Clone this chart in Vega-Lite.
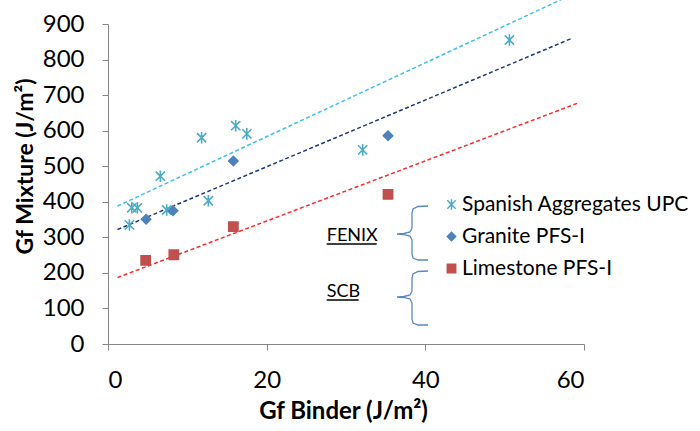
{
  "$schema": "https://vega.github.io/schema/vega-lite/v6.json",
  "width": 476,
  "height": 320,
  "autosize": {"type": "none"},
  "padding": {"left": 108, "top": 24, "right": 116, "bottom": 87},
  "background": "white",
  "config": {
    "view": {"stroke": null},
    "font": "Lato",
    "axis": {
      "grid": false,
      "domainColor": "#868686",
      "tickColor": "#868686",
      "tickSize": 6,
      "labelFont": "Lato",
      "labelFontSize": 24,
      "labelColor": "#000000",
      "labelOverlap": false,
      "titleFont": "Lato",
      "titleFontWeight": "bold",
      "titleColor": "#000000"
    },
    "axisY": {"labelOverlap": false, "labelSeparation": -30},
    "legend": {
      "orient": "none",
      "legendX": 333,
      "legendY": 170,
      "title": null,
      "labelFontSize": 21,
      "labelFont": "Lato",
      "labelColor": "#000000",
      "labelLimit": 400,
      "symbolSize": 70,
      "rowPadding": 10,
      "labelOffset": 0,
      "padding": 0
    }
  },
  "datasets": {
    "points": [
      {"series": "Spanish Aggregates UPC", "gx": 2.7, "gy": 335},
      {"series": "Spanish Aggregates UPC", "gx": 3.0, "gy": 383},
      {"series": "Spanish Aggregates UPC", "gx": 3.7, "gy": 383},
      {"series": "Spanish Aggregates UPC", "gx": 6.6, "gy": 472},
      {"series": "Spanish Aggregates UPC", "gx": 7.4, "gy": 377},
      {"series": "Spanish Aggregates UPC", "gx": 11.8, "gy": 580},
      {"series": "Spanish Aggregates UPC", "gx": 12.65, "gy": 403},
      {"series": "Spanish Aggregates UPC", "gx": 16.1, "gy": 614},
      {"series": "Spanish Aggregates UPC", "gx": 17.5, "gy": 591},
      {"series": "Spanish Aggregates UPC", "gx": 32.1, "gy": 546},
      {"series": "Spanish Aggregates UPC", "gx": 50.6, "gy": 855},
      {"series": "Granite PFS-I", "gx": 4.8, "gy": 351},
      {"series": "Granite PFS-I", "gx": 8.2, "gy": 375},
      {"series": "Granite PFS-I", "gx": 15.8, "gy": 515},
      {"series": "Granite PFS-I", "gx": 35.3, "gy": 586},
      {"series": "Limestone PFS-I", "gx": 4.75, "gy": 235},
      {"series": "Limestone PFS-I", "gx": 8.3, "gy": 251},
      {"series": "Limestone PFS-I", "gx": 15.8, "gy": 330},
      {"series": "Limestone PFS-I", "gx": 35.3, "gy": 421}
    ],
    "trends": [
      {"fit": "UPC fit", "gx": 1.2, "gy": 388},
      {"fit": "UPC fit", "gx": 58.6, "gy": 984},
      {"fit": "Granite fit", "gx": 1.2, "gy": 322},
      {"fit": "Granite fit", "gx": 58.5, "gy": 860},
      {"fit": "Limestone fit", "gx": 1.2, "gy": 187},
      {"fit": "Limestone fit", "gx": 59.4, "gy": 679}
    ],
    "braces": [
      {"group": "FENIX", "i": 0, "gx": 40.34, "gy": 388.1},
      {"group": "FENIX", "i": 1, "gx": 39.08, "gy": 386.7},
      {"group": "FENIX", "i": 2, "gx": 38.45, "gy": 379.7},
      {"group": "FENIX", "i": 3, "gx": 38.32, "gy": 368.4},
      {"group": "FENIX", "i": 4, "gx": 38.32, "gy": 326.2},
      {"group": "FENIX", "i": 5, "gx": 38.07, "gy": 315.0},
      {"group": "FENIX", "i": 6, "gx": 37.31, "gy": 310.8},
      {"group": "FENIX", "i": 7, "gx": 36.43, "gy": 309.4},
      {"group": "FENIX", "i": 8, "gx": 37.31, "gy": 307.9},
      {"group": "FENIX", "i": 9, "gx": 38.07, "gy": 303.7},
      {"group": "FENIX", "i": 10, "gx": 38.32, "gy": 292.5},
      {"group": "FENIX", "i": 11, "gx": 38.32, "gy": 253.1},
      {"group": "FENIX", "i": 12, "gx": 38.45, "gy": 241.9},
      {"group": "FENIX", "i": 13, "gx": 39.08, "gy": 236.2},
      {"group": "FENIX", "i": 14, "gx": 40.34, "gy": 236.2},
      {"group": "SCB", "i": 0, "gx": 40.34, "gy": 205.3},
      {"group": "SCB", "i": 1, "gx": 39.08, "gy": 203.9},
      {"group": "SCB", "i": 2, "gx": 38.45, "gy": 196.9},
      {"group": "SCB", "i": 3, "gx": 38.32, "gy": 185.6},
      {"group": "SCB", "i": 4, "gx": 38.32, "gy": 149.1},
      {"group": "SCB", "i": 5, "gx": 38.07, "gy": 137.8},
      {"group": "SCB", "i": 6, "gx": 37.31, "gy": 133.6},
      {"group": "SCB", "i": 7, "gx": 36.43, "gy": 132.2},
      {"group": "SCB", "i": 8, "gx": 37.31, "gy": 130.8},
      {"group": "SCB", "i": 9, "gx": 38.07, "gy": 126.6},
      {"group": "SCB", "i": 10, "gx": 38.32, "gy": 115.3},
      {"group": "SCB", "i": 11, "gx": 38.32, "gy": 70.3},
      {"group": "SCB", "i": 12, "gx": 38.45, "gy": 59.1},
      {"group": "SCB", "i": 13, "gx": 39.08, "gy": 53.4},
      {"group": "SCB", "i": 14, "gx": 40.34, "gy": 53.4}
    ],
    "labels": [
      {"label": "FENIX", "gx": 27.57, "gx2": 33.87, "gy": 289.7, "uy": 281.2},
      {"label": "SCB", "gx": 27.57, "gx2": 31.6, "gy": 133.0, "uy": 123.7}
    ]
  },
  "encoding": {
    "x": {"field": "gx", "type": "quantitative", "scale": {"domain": [0, 60]},
      "axis": {"values": [0, 20, 40, 60], "labelOverlap": false, "title": "Gf Binder (J/m²)", "titleFontSize": 24, "labelPadding": 18, "titleX": 235, "titleY": 67, "titleBaseline": "middle", "titleAlign": "center", "titleAnchor": null}},
    "y": {"field": "gy", "type": "quantitative", "scale": {"domain": [0, 900]},
      "axis": {"values": [0, 100, 200, 300, 400, 500, 600, 700, 800, 900], "labelOverlap": false, "title": "Gf Mixture (J/m²)", "titleFontSize": 23, "labelPadding": 18, "titleX": -83, "titleY": 142, "titleBaseline": "middle", "titleAlign": "center", "titleAnchor": null}}
  },
  "layer": [
    {
      "data": {"name": "trends"},
      "mark": {"type": "line", "strokeDash": [4, 2.5], "strokeWidth": 1.5, "clip": false},
      "encoding": {
        "color": {"field": "fit", "type": "nominal", "legend": null,
          "scale": {"domain": ["UPC fit", "Granite fit", "Limestone fit"], "range": ["#3CBFEF", "#1F3A7A", "#FF2A2A"]}}
      }
    },
    {
      "data": {"name": "points"},
      "mark": {"type": "point", "filled": true, "size": 85, "strokeWidth": 1.6, "opacity": 1},
      "encoding": {
        "fill": {"field": "series", "type": "nominal",
          "scale": {"domain": ["Spanish Aggregates UPC", "Granite PFS-I", "Limestone PFS-I"], "range": ["#4BACC6", "#4F81BD", "#C0504D"]}},
        "stroke": {"field": "series", "type": "nominal",
          "scale": {"domain": ["Spanish Aggregates UPC", "Granite PFS-I", "Limestone PFS-I"], "range": ["#4BACC6", "#4F81BD", "#C0504D"]}},
        "shape": {"field": "series", "type": "nominal",
          "scale": {"domain": ["Spanish Aggregates UPC", "Granite PFS-I", "Limestone PFS-I"], "range": ["M0,-1.25L0,1.25M-1,-1L1,1M-1,1L1,-1", "diamond", "square"]}}
      }
    },
    {
      "data": {"name": "braces"},
      "mark": {"type": "line", "color": "#5B87C5", "strokeWidth": 1.3},
      "encoding": {
        "detail": {"field": "group", "type": "nominal"},
        "order": {"field": "i", "type": "quantitative"}
      }
    },
    {
      "data": {"name": "labels"},
      "mark": {"type": "text", "align": "left", "baseline": "alphabetic", "fontSize": 18, "font": "Lato", "color": "#000000"},
      "encoding": {
        "text": {"field": "label"}
      }
    },
    {
      "data": {"name": "labels"},
      "mark": {"type": "rule", "color": "#000000", "strokeWidth": 1.6},
      "encoding": {
        "x2": {"field": "gx2"},
        "y": {"field": "uy", "type": "quantitative"}
      }
    }
  ]
}
